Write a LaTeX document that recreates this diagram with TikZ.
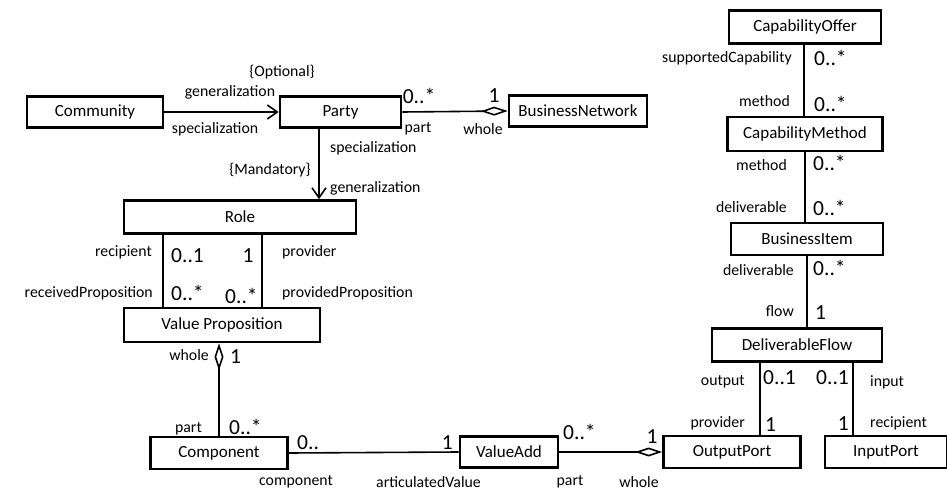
\documentclass[tikz,border=0pt]{standalone}
\usepackage{fontspec}
\setmainfont{Carlito}
\usetikzlibrary{arrows.meta}
\begin{document}
\begin{tikzpicture}[x=1pt,y=-1pt,
  cls/.style={draw,line width=2.6pt,inner sep=0pt,font=\fontsize{17}{19}\selectfont},
  lab/.style={inner sep=0pt,font=\fontsize{15.8}{17}\selectfont},
  mul/.style={inner sep=0pt,font=\fontsize{21.5}{22}\selectfont},
  con/.style={line width=1.6pt},
  gen/.style={con,-{Straight Barb[length=10pt,width=14pt,line width=1.6pt]}},
  agg/.style={con,-{Diamond[open,length=27pt,width=9pt,line width=1.6pt,fill=white]}}]
\useasboundingbox (0,0) rectangle (947,492);
% classes
\node[cls,minimum width=136pt,minimum height=31pt] (community) at (95,112) {Community};
\node[cls,minimum width=121pt,minimum height=31pt] (party) at (340.5,112) {Party};
\node[cls,minimum width=138pt,minimum height=31pt] (bn) at (578,111) {BusinessNetwork};
\node[cls,minimum width=232pt,minimum height=33pt] (role) at (240,217) {Role};
\node[cls,minimum width=196pt,minimum height=34pt] (vp) at (222,325) {Value Proposition};
\node[cls,minimum width=137pt,minimum height=32pt] (comp) at (219,453) {Component};
\node[cls,minimum width=98pt,minimum height=31pt] (va) at (509,452) {ValueAdd};
\node[cls,minimum width=137pt,minimum height=32pt] (op) at (732,452) {OutputPort};
\node[cls,minimum width=122pt,minimum height=32pt] (ip) at (886,452) {InputPort};
\node[cls,minimum width=170pt,minimum height=33pt] (df) at (797,345) {DeliverableFlow};
\node[cls,minimum width=152pt,minimum height=33pt] (co) at (805,27) {CapabilityOffer};
\node[cls,minimum width=155pt,minimum height=34pt] (cm) at (805,134) {CapabilityMethod};
\node[cls,minimum width=152pt,minimum height=32pt] (bi) at (807,239) {BusinessItem};
% connectors
\draw[gen] (community.east) -- (party.west);
\draw[agg] (party.east) -- (bn.west);
\draw[gen] (party.south -| 319,0) -- (role.north -| 319,0);
\draw[con] (role.south -| 163,0) -- (vp.north -| 163,0);
\draw[con] (role.south -| 262,0) -- (vp.north -| 262,0);
\draw[agg] (comp.north) -- (vp.south -| comp.north);
\draw[con] (comp.east) -- (va.west);
\draw[agg] (va.east) -- (op.west);
\draw[con] (co.south -| 804,0) -- (cm.north -| 804,0);
\draw[con] (cm.south -| 805,0) -- (bi.north -| 805,0);
\draw[con] (bi.south -| 807,0) -- (df.north -| 807,0);
\draw[con] (df.south -| 760,0) -- (op.north -| 760,0);
\draw[con] (df.south -| 853,0) -- (ip.north -| 853,0);
% labels: Community - Party
\node[lab] (l1) at (282,72) {\{Optional\}};
\node[lab] (l2) at (230,92) {generalization};
\node[lab] (l3) at (215,129) {specialization};
% Party - Role
\node[lab,anchor=west] (l4) at (330,148) {specialization};
\node[lab] (l5) at (270,170) {\{Mandatory\}};
\node[lab,anchor=west] (l6) at (330,188) {generalization};
% Party - BusinessNetwork
\node[mul] (m1) at (419,96) {0..*};
\node[mul] (m2) at (494,96) {1};
\node[lab] (l7) at (418,129) {part};
\node[lab] (l8) at (483,129) {whole};
% Role - VP
\node[lab,anchor=east] (l9) at (152,252) {recipient};
\node[mul,anchor=west] (m3) at (171,256) {0..1};
\node[mul] (m4) at (248,256) {1};
\node[lab,anchor=west] (l10) at (282,252) {provider};
\node[lab,anchor=east] (l11) at (153,293) {receivedProposition};
\node[mul,anchor=west] (m5) at (171,293) {0..*};
\node[mul,anchor=west] (m6) at (225,296) {0..*};
\node[lab,anchor=west] (l12) at (282,293) {providedProposition};
% VP - Component
\node[lab,anchor=east] (l13) at (209,355) {whole};
\node[mul,anchor=west] (m7) at (230,357) {1};
\node[lab,anchor=east] (l14) at (202,429) {part};
\node[mul,anchor=west] (m8) at (229,427) {0..*};
% Component - ValueAdd
\node[mul,anchor=west] (m9) at (297,443) {0..};
\node[mul,anchor=east] (m10) at (453,443) {1};
\node[lab] (l15) at (296,482) {component};
\node[lab,anchor=west] (l16) at (376,482) {articulatedValue};
% ValueAdd - OutputPort
\node[mul,anchor=west] (m11) at (563,432) {0..*};
\node[mul] (m12) at (652,437) {1};
\node[lab] (l17) at (570,482) {part};
\node[lab] (l18) at (639,482) {whole};
% DeliverableFlow - ports
\node[lab,anchor=east] (l19) at (745,382) {output};
\node[mul,anchor=west] (m13) at (763,378) {0..1};
\node[mul,anchor=west] (m14) at (816,378) {0..1};
\node[lab,anchor=west] (l20) at (870,382) {input};
\node[lab,anchor=east] (l21) at (745,423) {provider};
\node[mul,anchor=west] (m15) at (765,425) {1};
\node[mul,anchor=east] (m16) at (849,424) {1};
\node[lab,anchor=west] (l22) at (870,423) {recipient};
% right column
\node[lab,anchor=east] (l23) at (792,58) {supportedCapability};
\node[mul,anchor=west] (m17) at (814,58) {0..*};
\node[lab,anchor=east] (l24) at (790,101) {method};
\node[mul,anchor=west] (m18) at (814,104) {0..*};
\node[lab,anchor=east] (l25) at (787,165) {method};
\node[mul,anchor=west] (m19) at (813,163) {0..*};
\node[lab,anchor=east] (l26) at (787,207) {deliverable};
\node[mul,anchor=west] (m20) at (813,208) {0..*};
\node[lab,anchor=east] (l27) at (794,270) {deliverable};
\node[mul,anchor=west] (m21) at (813,268) {0..*};
\node[lab,anchor=east] (l28) at (794,311) {flow};
\node[mul,anchor=west] (m22) at (815,313) {1};
\end{tikzpicture}
\end{document}
